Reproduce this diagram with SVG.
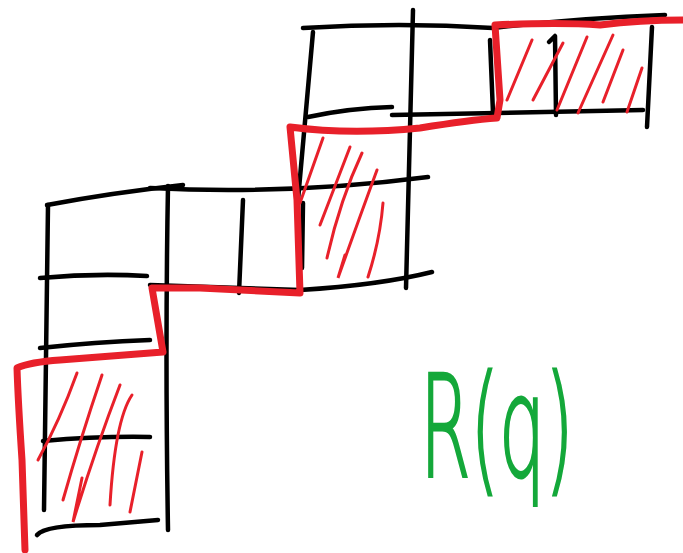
<svg xmlns="http://www.w3.org/2000/svg" width="683" height="553" viewBox="0 0 683 553">
<style>
.k{fill:none;stroke:#000;stroke-width:4.5;stroke-linecap:round;stroke-linejoin:round}
.b{fill:none;stroke:#e8202a;stroke-width:7;stroke-linecap:round;stroke-linejoin:round}
.h{fill:none;stroke:#e8202a;stroke-width:3;stroke-linecap:round}
.t{fill:#14a83a;stroke:#14a83a;stroke-width:3;font-family:"DejaVu Sans","Liberation Sans",sans-serif;font-weight:200}
</style>
<rect width="683" height="553" fill="#fff"/>
<g id="grid">
<path class="k" d="M47,205 Q110,193 183,185"/>
<path class="k" d="M48,205 L44,510"/>
<path class="k" d="M168,186 Q165,350 168,530"/>
<path class="k" d="M40,278 Q95,273 147,276"/>
<path class="k" d="M40,348 Q95,342 150,340"/>
<path class="k" d="M43,441 Q100,436 150,437"/>
<path class="k" d="M37,535 Q45,525 100,525 L158,520"/>
<path class="k" d="M150,188 Q290,195 428,177"/>
<path class="k" d="M150,285 L300,290 Q380,285 432,272"/>
<path class="k" d="M243,200 L239,293"/>
<path class="k" d="M303,203 L302,268"/>
<path class="k" d="M413,10 L406,288"/>
<path class="k" d="M303,28 Q400,22 493,28 Q580,18 665,15"/>
<path class="k" d="M313,32 L298,200"/>
<path class="k" d="M490,40 L493,113"/>
<path class="k" d="M549,42 L555,36 L556,115"/>
<path class="k" d="M652,27 L647,127"/>
<path class="k" d="M308,117 Q350,108 392,107"/>
<path class="k" d="M392,115 L643,110"/>
</g>
<g id="hatch">
<path class="h" d="M77,373 Q60,420 38,460"/>
<path class="h" d="M102,375 Q80,440 63,500"/>
<path class="h" d="M120,385 Q95,450 73,522 L82,478"/>
<path class="h" d="M132,395 Q115,420 110,505"/>
<path class="h" d="M142,452 L130,512"/>
<path class="h" d="M323,138 L300,203"/>
<path class="h" d="M350,147 L320,225"/>
<path class="h" d="M362,153 Q340,200 327,258"/>
<path class="h" d="M377,170 Q355,230 338,278 L345,255"/>
<path class="h" d="M383,203 Q380,240 368,277"/>
<path class="h" d="M532,40 L507,100"/>
<path class="h" d="M563,43 L533,100"/>
<path class="h" d="M587,37 L557,110"/>
<path class="h" d="M613,35 L578,113"/>
<path class="h" d="M623,50 L603,102"/>
<path class="h" d="M642,68 L627,112"/>
</g>
<g id="boundary">
<path class="b" d="M25,550 L22,460 Q18,400 17,368 Q30,362 60,360 L163,352 L152,288 L200,288 L300,293 L297,200 L290,127 Q350,135 420,128 Q470,120 497,118 L500,100 L495,25 Q560,22 600,25 Q640,20 683,20"/>
</g>
<g id="label">
<text class="t" transform="translate(420,476) scale(0.52,1)" x="0" y="0" font-size="140">R(q)</text>
</g>
</svg>
